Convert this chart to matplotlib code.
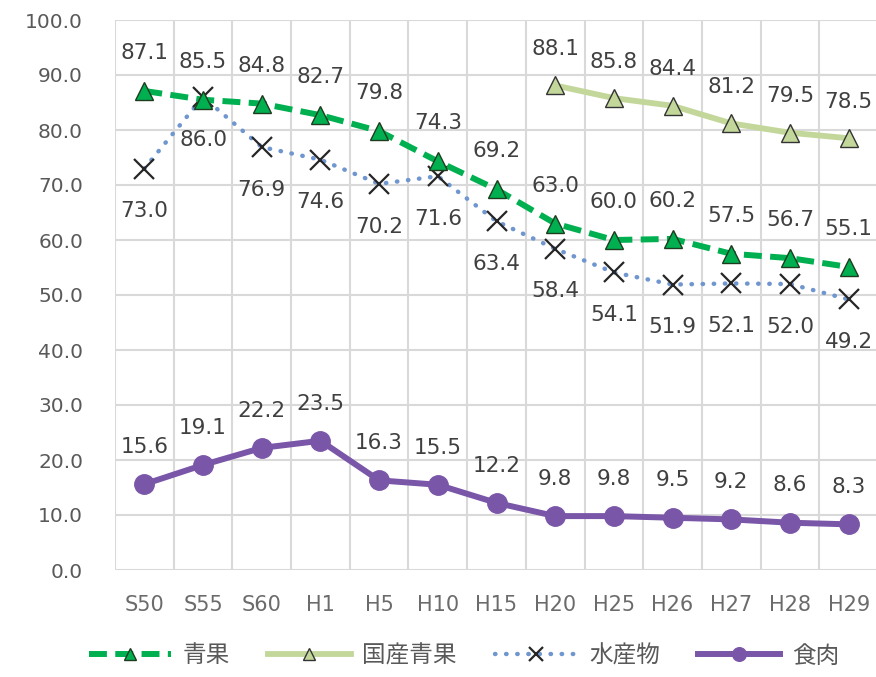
import numpy as np
import matplotlib
matplotlib.use("Agg")
import matplotlib.pyplot as plt
from matplotlib.ticker import FormatStrFormatter, MultipleLocator

plt.rcParams['font.family'] = ['DejaVu Sans', 'Noto Sans CJK JP']

# data
years = ["S50", "S55", "S60", "H1", "H5", "H10", "H15", "H20", "H25", "H26", "H27", "H28", "H29"]
seika = [87.1, 85.5, 84.8, 82.7, 79.8, 74.3, 69.2, 63.0, 60.0, 60.2, 57.5, 56.7, 55.1]
kokusan_seika = [None, None, None, None, None, None, None, 88.1, 85.8, 84.4, 81.2, 79.5, 78.5]
suisan = [73.0, 86.0, 76.9, 74.6, 70.2, 71.6, 63.4, 58.4, 54.1, 51.9, 52.1, 52.0, 49.2]
shokuniku = [15.6, 19.1, 22.2, 23.5, 16.3, 15.5, 12.2, 9.8, 9.8, 9.5, 9.2, 8.6, 8.3]

x = np.arange(len(years))

fig = plt.figure(figsize=(8.76, 6.77), dpi=100)
ax = fig.add_axes([115 / 876, 1 - 570 / 677, 763 / 876, 550 / 677])

label_col = '#404040'

def add_labels(xs, ys, dy):
    # dy in points, to the baseline of the label
    for xi, yi in zip(xs, ys):
        if yi is None:
            continue
        ax.annotate("%.1f" % yi, (xi, yi), xytext=(0, dy), textcoords='offset points',
                    ha='center', va='baseline', fontsize=15.5, color=label_col,
                    annotation_clip=False)

# 国産青果
kx = [xi for xi, v in zip(x, kokusan_seika) if v is not None]
ky = [v for v in kokusan_seika if v is not None]
ax.plot(kx, ky, color='#c4d79b', lw=4.2, marker='^', markersize=13,
        markerfacecolor='#c4d79b', markeredgecolor='#333333', markeredgewidth=1.0,
        label='国産青果', zorder=3)

# 水産物
ax.plot(x, suisan, color='#7096cf', lw=3.2, linestyle=(0, (0.1, 2.4)), dash_capstyle='round',
        marker='x', markersize=14, markeredgecolor='#262626', markeredgewidth=1.6,
        label='水産物', zorder=4)

# 青果
ax.plot(x, seika, color='#00b050', lw=4.3, linestyle=(0, (3, 1.4)),
        marker='^', markersize=13, markerfacecolor='#00b050',
        markeredgecolor='#1f3b1f', markeredgewidth=1.0, label='青果', zorder=5)

# 食肉
ax.plot(x, shokuniku, color='#7a56a8', lw=4.3, marker='o', markersize=14,
        markerfacecolor='#7a56a8', markeredgecolor='#7a56a8', label='食肉', zorder=5)

add_labels(x, seika, 23)
add_labels(x, kokusan_seika, 22)
add_labels(x, suisan, -35)
add_labels(x, shokuniku, 22.5)

ax.set_xlim(-0.5, len(years) - 0.5)
ax.set_ylim(0, 100)
ax.yaxis.set_major_locator(MultipleLocator(10))
ax.yaxis.set_major_formatter(FormatStrFormatter('%.1f'))
ax.set_xticks(x)
ax.set_xticklabels(years)
ax.set_xticks(np.arange(-0.5, len(years)), minor=True)

ax.grid(True, which='major', axis='y', color='#d9d9d9', lw=1.5)
ax.grid(True, which='minor', axis='x', color='#d9d9d9', lw=1.5)
ax.set_axisbelow(True)
for s in ax.spines.values():
    s.set_visible(False)
ax.tick_params(which='both', length=0)
ax.tick_params(axis='x', labelsize=15, colors='#6b6b6b', pad=18)
ax.tick_params(axis='y', labelsize=14.5, colors='#595959', pad=23)

handles, labels = ax.get_legend_handles_labels()
order = [labels.index(n) for n in ['青果', '国産青果', '水産物', '食肉']]
leg = fig.legend([handles[i] for i in order], [labels[i] for i in order],
                 loc='center', bbox_to_anchor=(464 / 876, 21 / 677), ncol=4,
                 frameon=False, prop={'family': 'Noto Sans CJK JP', 'size': 17},
                 handlelength=3.5, handletextpad=0.5, columnspacing=1.6,
                 markerscale=0.7)
for t in leg.get_texts():
    t.set_color('#595959')

fig.savefig('out.png', dpi=100)
